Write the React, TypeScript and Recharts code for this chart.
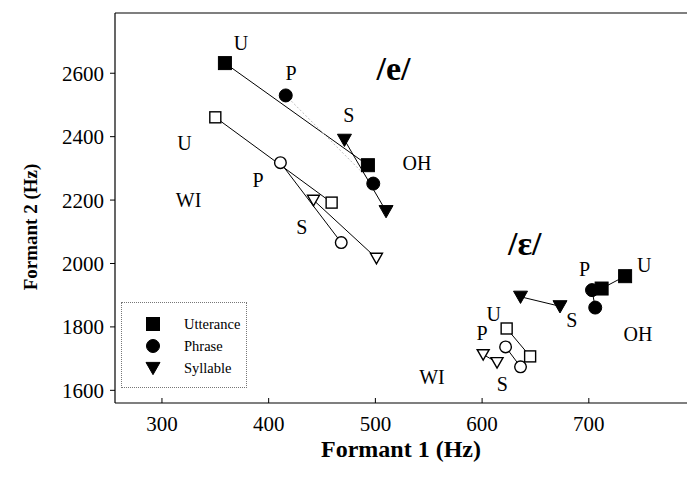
import React from 'react'
import {
  ScatterChart,
  Scatter,
  XAxis,
  YAxis,
  ReferenceLine,
  ReferenceDot,
  Label,
  Legend,
} from 'recharts'

const FONT = '"Liberation Serif", "Times New Roman", serif'

// ─── Axes ────────────────────────────────────────────────────────────────────

const F1_DOMAIN: [number, number] = [256, 792]
const F2_DOMAIN: [number, number] = [1560, 2790]
const F1_TICKS = [300, 400, 500, 600, 700]
const F2_TICKS = [1600, 1800, 2000, 2200, 2400, 2600]

// ─── Formant pairs [F1, F2] in Hz, onset then offset ─────────────────────────

// /e/, OH speakers
const E_OH_UTTERANCE = [[359, 2632], [493, 2310]]
const E_OH_PHRASE = [[416, 2530], [498, 2252]]
const E_OH_SYLLABLE = [[471, 2390], [510, 2165]]

// /e/, WI speakers
const E_WI_UTTERANCE = [[350, 2461], [459, 2192]]
const E_WI_PHRASE = [[411, 2318], [468, 2066]]
const E_WI_SYLLABLE = [[442, 2200], [501, 2017]]

// /ɛ/, OH speakers
const EH_OH_UTTERANCE = [[734, 1960], [712, 1921]]
const EH_OH_PHRASE = [[703, 1916], [706, 1861]]
const EH_OH_SYLLABLE = [[636, 1895], [673, 1865]]

// /ɛ/, WI speakers
const EH_WI_UTTERANCE = [[623, 1795], [645, 1707]]
const EH_WI_PHRASE = [[622, 1737], [636, 1674]]
const EH_WI_SYLLABLE = [[601, 1713], [614, 1688]]

// ─── Text annotations [text, F1, F2] ─────────────────────────────────────────

const VOWEL_LABELS: [string, number, number][] = [
  ['/e/', 517, 2616],
  ['/ɛ/', 640, 2063],
]

const POINT_LABELS: [string, number, number][] = [
  ['U', 374, 2695],
  ['P', 421, 2600],
  ['S', 475, 2468],
  ['OH', 539, 2316],
  ['U', 321, 2379],
  ['P', 390, 2263],
  ['WI', 325, 2200],
  ['S', 431, 2116],
  ['P', 696, 1984],
  ['U', 752, 1995],
  ['S', 684, 1821],
  ['OH', 746, 1779],
  ['U', 611, 1840],
  ['P', 600, 1780],
  ['WI', 553, 1642],
  ['S', 619, 1621],
]

const LEGEND_ITEMS = [
  { label: 'Utterance', shape: 'square' },
  { label: 'Phrase', shape: 'circle' },
  { label: 'Syllable', shape: 'triangle' },
]

// ─── Series table ────────────────────────────────────────────────────────────

type Shape = 'square' | 'circle' | 'triangle'

interface SeriesDef {
  name: string
  pairs: number[][]
  shape: Shape
  filled: boolean
  faint?: boolean
}

const SERIES: SeriesDef[] = [
  { name: 'e-wi-u', pairs: E_WI_UTTERANCE, shape: 'square', filled: false },
  { name: 'e-wi-p', pairs: E_WI_PHRASE, shape: 'circle', filled: false },
  { name: 'e-wi-s', pairs: E_WI_SYLLABLE, shape: 'triangle', filled: false },
  { name: 'e-oh-u', pairs: E_OH_UTTERANCE, shape: 'square', filled: true },
  { name: 'e-oh-p', pairs: E_OH_PHRASE, shape: 'circle', filled: true, faint: true },
  { name: 'e-oh-s', pairs: E_OH_SYLLABLE, shape: 'triangle', filled: true },
  { name: 'eh-wi-u', pairs: EH_WI_UTTERANCE, shape: 'square', filled: false },
  { name: 'eh-wi-p', pairs: EH_WI_PHRASE, shape: 'circle', filled: false },
  { name: 'eh-wi-s', pairs: EH_WI_SYLLABLE, shape: 'triangle', filled: false },
  { name: 'eh-oh-u', pairs: EH_OH_UTTERANCE, shape: 'square', filled: true },
  { name: 'eh-oh-p', pairs: EH_OH_PHRASE, shape: 'circle', filled: true },
  { name: 'eh-oh-s', pairs: EH_OH_SYLLABLE, shape: 'triangle', filled: true },
]

const toPoints = (pairs: number[][]) => pairs.map(([f1, f2]) => ({ f1, f2 }))

// ─── Markers ─────────────────────────────────────────────────────────────────

function Marker({ cx, cy, shape, filled }: { cx: number; cy: number; shape: Shape; filled: boolean }) {
  const fill = filled ? '#000' : '#fff'
  const sw = filled ? 1 : 1.4
  if (shape === 'square') {
    const h = filled ? 6.5 : 5.5
    return <rect x={cx - h} y={cy - h} width={h * 2} height={h * 2} fill={fill} stroke="#000" strokeWidth={sw} />
  }
  if (shape === 'circle') {
    return <circle cx={cx} cy={cy} r={filled ? 6.5 : 5.8} fill={fill} stroke="#000" strokeWidth={sw} />
  }
  const w = filled ? 7 : 6
  return (
    <polygon
      points={`${cx - w},${cy - w * 0.8} ${cx + w},${cy - w * 0.8} ${cx},${cy + w * 0.95}`}
      fill={fill}
      stroke="#000"
      strokeWidth={sw}
      strokeLinejoin="miter"
    />
  )
}

function LegendBox() {
  return (
    <div
      style={{
        position: 'relative',
        width: 124,
        height: 84,
        border: '1px dotted #777',
        background: '#fff',
        fontFamily: FONT,
        fontSize: 14.5,
        color: '#000',
      }}
    >
      {LEGEND_ITEMS.map((item, i) => (
        <div
          key={item.label}
          style={{ position: 'absolute', left: 22, top: 12 + i * 22, height: 18, display: 'flex', alignItems: 'center' }}
        >
          <svg width={18} height={18}>
            <Marker cx={9} cy={9} shape={item.shape as Shape} filled />
          </svg>
          <span style={{ marginLeft: 22 }}>{item.label}</span>
        </div>
      ))}
    </div>
  )
}

// ─── Chart ───────────────────────────────────────────────────────────────────

export default function App() {
  return (
    <div style={{ position: 'absolute', left: 0, top: 0, width: 687, height: 479, background: '#fff' }}>
      <ScatterChart width={687} height={479} margin={{ top: 13, right: 0, bottom: 36, left: 40 }}>
        <XAxis
          type="number"
          dataKey="f1"
          domain={F1_DOMAIN}
          ticks={F1_TICKS}
          allowDataOverflow
          height={40}
          axisLine={{ stroke: '#000', strokeWidth: 1.2 }}
          tickLine={{ stroke: '#000' }}
          tickSize={-5}
          tickMargin={18}
          tick={{ fontFamily: FONT, fontSize: 21, fill: '#000' }}
        >
          <Label
            content={({ viewBox }: any) => (
              <text
                x={viewBox.x + viewBox.width / 2}
                y={viewBox.y + 54}
                textAnchor="middle"
                fontFamily={FONT}
                fontWeight="bold"
                fontSize={24}
                fill="#000"
              >
                Formant 1 (Hz)
              </text>
            )}
          />
        </XAxis>
        <YAxis
          type="number"
          dataKey="f2"
          domain={F2_DOMAIN}
          ticks={F2_TICKS}
          allowDataOverflow
          width={75}
          axisLine={{ stroke: '#000', strokeWidth: 1.2 }}
          tickLine={{ stroke: '#000' }}
          tickSize={5}
          tickMargin={6}
          tick={{ fontFamily: FONT, fontSize: 21, fill: '#000' }}
        >
          <Label
            content={() => (
              <text
                transform="translate(37, 227) rotate(-90)"
                textAnchor="middle"
                fontFamily={FONT}
                fontWeight="bold"
                fontSize={19}
                fill="#000"
              >
                Formant 2 (Hz)
              </text>
            )}
          />
        </YAxis>
        <ReferenceLine y={F2_DOMAIN[1]} stroke="#000" strokeWidth={1.2} />
        <Legend
          layout="vertical"
          align="center"
          verticalAlign="middle"
          content={() => <LegendBox />}
          wrapperStyle={{ left: 121, top: 302, width: 126, height: 86 }}
        />
        {SERIES.map(s => (
          <Scatter
            key={s.name}
            name={s.name}
            data={toPoints(s.pairs)}
            isAnimationActive={false}
            legendType="none"
            line={{ stroke: s.faint ? '#bdbdbd' : '#000', strokeWidth: 1, strokeDasharray: s.faint ? '2 2' : undefined }}
            shape={(p: any) => <Marker cx={p.cx} cy={p.cy} shape={s.shape} filled={s.filled} />}
          />
        ))}
        {POINT_LABELS.map(([text, f1, f2], i) => (
          <ReferenceDot
            key={`pl-${i}`}
            x={f1}
            y={f2}
            r={0}
            ifOverflow="visible"
            shape={(p: any) => (
              <text x={p.cx} y={p.cy} textAnchor="middle" dominantBaseline="central" fontFamily={FONT} fontSize={20} fill="#000">
                {text}
              </text>
            )}
          />
        ))}
        {VOWEL_LABELS.map(([text, f1, f2], i) => (
          <ReferenceDot
            key={`vl-${i}`}
            x={f1}
            y={f2}
            r={0}
            ifOverflow="visible"
            shape={(p: any) => (
              <text x={p.cx} y={p.cy} textAnchor="middle" dominantBaseline="central" fontFamily={FONT} fontWeight="bold" fontSize={34} fill="#000">
                {text}
              </text>
            )}
          />
        ))}
      </ScatterChart>
    </div>
  )
}
